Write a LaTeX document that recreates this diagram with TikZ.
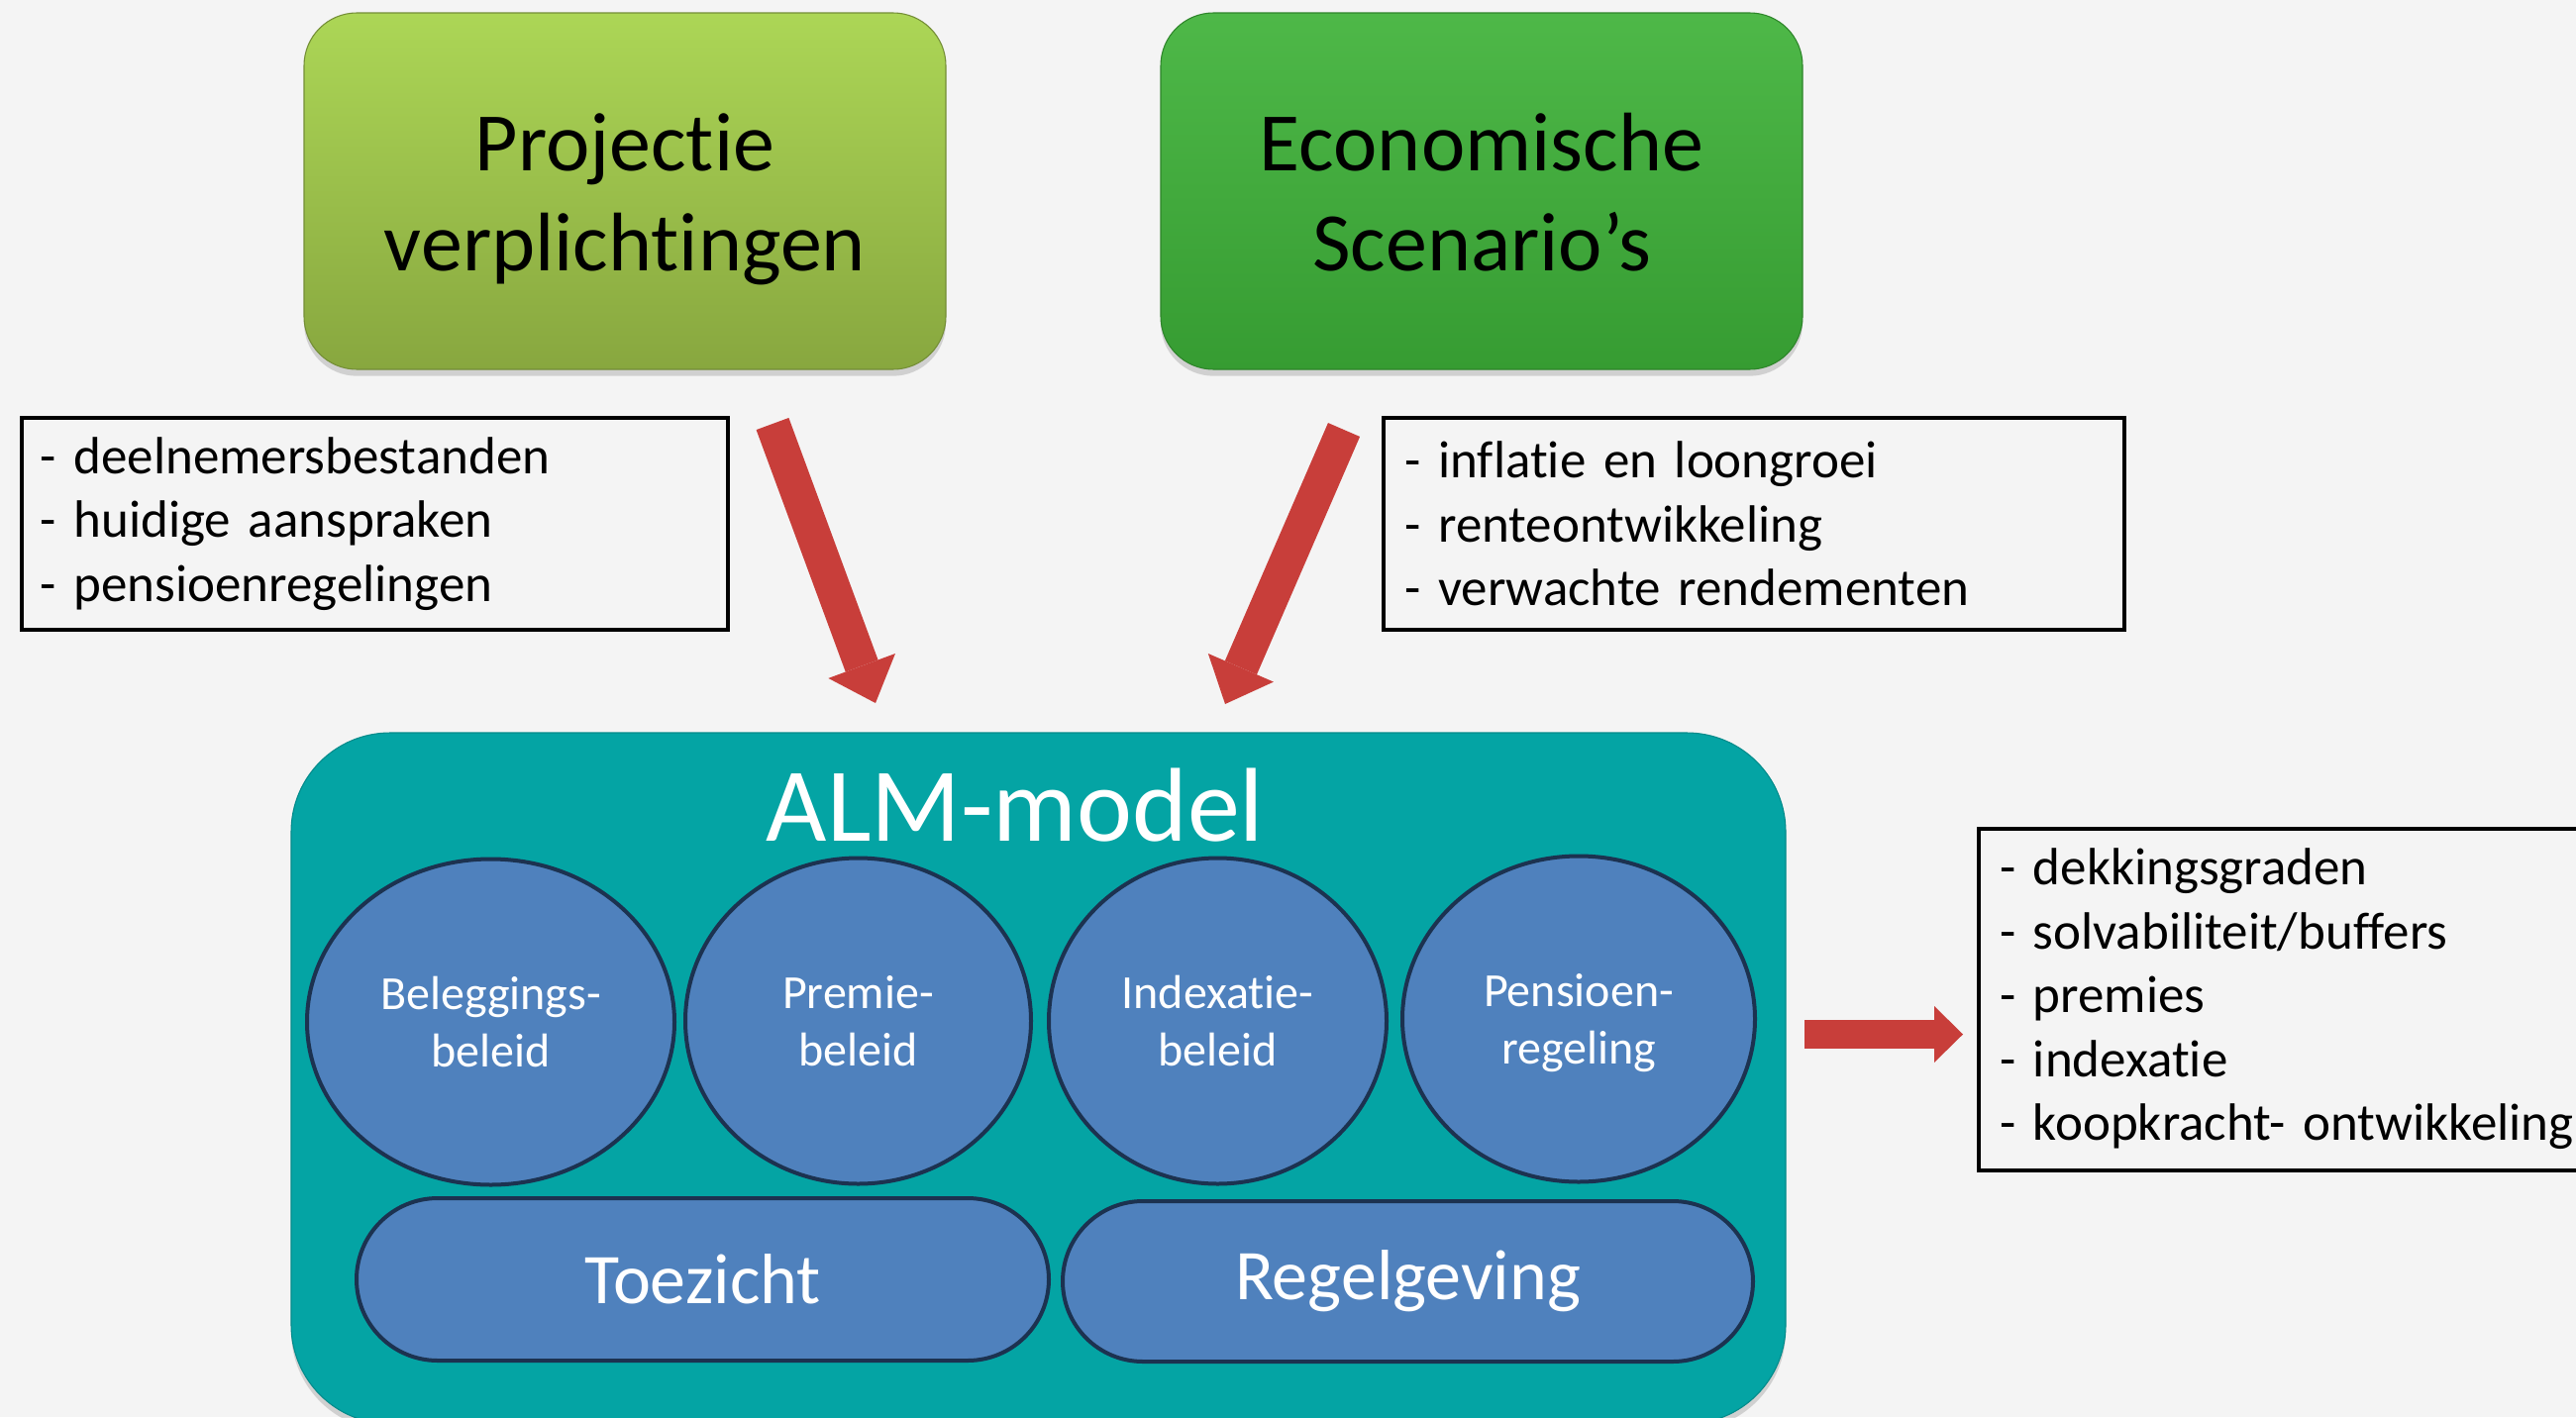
\documentclass[tikz,border=0pt]{standalone}
\usepackage{fontspec}
\setmainfont[Ligatures={NoCommon,NoContextual},RawFeature={-liga;-clig;-calt;-dlig}]{Carlito}
\usetikzlibrary{shapes.geometric,shapes.misc,arrows.meta,shadows}

\definecolor{bgGray}{RGB}{244,244,244}
\definecolor{projTop}{RGB}{172,214,86}
\definecolor{projBottom}{RGB}{136,167,63}
\definecolor{econTop}{RGB}{78,184,72}
\definecolor{econBottom}{RGB}{54,156,50}
\definecolor{almTeal}{RGB}{4,164,164}
\definecolor{partBlue}{RGB}{79,129,189}
\definecolor{partEdge}{RGB}{28,50,80}
\definecolor{arrowRed}{RGB}{200,62,58}

\newcommand{\toprule}{\rule{0pt}{56pt}}

\tikzset{
  sourcebox/.style={rectangle, rounded corners=40pt, draw=#1Bottom!85!black, line width=0.8pt,
    top color=#1Top, bottom color=#1Bottom, minimum width=486pt, minimum height=270pt,
    align=center, font=\fontsize{63}{75.75}\selectfont,
    drop shadow={shadow xshift=0pt, shadow yshift=-5pt, opacity=0.3}},
  listbox/.style={rectangle, draw=black, line width=3pt, align=left, inner ysep=0pt,
    font=\fontsize{39.75}{48.4}\selectfont},
  almbox/.style={rectangle, rounded corners=75pt, fill=almTeal, draw=almTeal!85!black, line width=0.8pt,
    minimum width=1131.75pt, minimum height=523.5pt,
    drop shadow={shadow xshift=0pt, shadow yshift=-5pt, opacity=0.3}},
  almtitle/.style={text=white, inner sep=0pt, font=\fontsize{79.5}{95}\selectfont},
  partcircle/.style={ellipse, fill=partBlue, draw=partEdge, line width=3pt, inner sep=0pt,
    minimum height=246.75pt, align=center, text=white, font=\fontsize{36}{43.5}\selectfont},
  framebar/.style={rounded rectangle, fill=partBlue, draw=partEdge, line width=3pt, inner sep=0pt,
    text=white, font=\fontsize{54}{64}\selectfont},
  fatarrow/.style={draw=arrowRed, line width=26.25pt,
    -{Triangle[width=54pt, length=30pt, line width'=0pt]}},
  thinarrow/.style={draw=arrowRed, line width=21.75pt,
    -{Triangle[width=42.75pt, length=21.75pt, line width'=0pt]}}
}

\begin{document}
\begin{tikzpicture}[x=0.75pt,y=0.75pt,yscale=-1,xscale=1]
\useasboundingbox (0,0) rectangle (2601,1431);
\clip (0,0) rectangle (2601,1431);
%Shape: Background
\fill[bgGray] (0,0) rectangle (2601,1431);

%Shape: Rounded Rect [inputs]
\node[sourcebox=proj] (projectie) at (631,193) {\toprule Projectie\\verplichtingen};
\node[sourcebox=econ] (economie) at (1496,193) {\toprule Economische\\Scenario’s\vphantom{g}};

% Text Node
\node[listbox, minimum width=534.75pt, minimum height=160.5pt, text width=506.75pt, inner xsep=14pt]
  (deelnemers) at (378.5,529) {- deelnemersbestanden\\- huidige aanspraken\\- pensioenregelingen};
% Text Node
\node[listbox, minimum width=561pt, minimum height=160.5pt, text width=529pt, inner xsep=16pt]
  (markt) at (1771,529) {- inflatie en loongroei\\- renteontwikkeling\\- verwachte rendementen};

%Straight Lines [arrows in]
\coordinate (projtail) at (780,428);
\coordinate (projtip) at (884,710);
\coordinate (econtail) at (1357,434);
\coordinate (econtip) at (1237,711);
\draw[fatarrow] (projtail) -- (projtip);
\draw[fatarrow] (econtail) -- (econtip);

%Shape: Rounded Rect [model]
\node[almbox] (alm) at (1048.5,1089) {};
\node[almtitle, anchor=base] (almtitle) at (1025,849) {ALM-model};

%Shape: Ellipse
\node[partcircle, minimum width=278.25pt] (belegging) at (495.5,1032) {Beleggings-\\beleid};
\node[partcircle, minimum width=261.75pt] (premie) at (866.5,1031) {Premie-\\beleid};
\node[partcircle, minimum width=255.75pt] (indexatie) at (1229.5,1031) {Indexatie-\\beleid};
\node[partcircle, minimum width=267pt] (pensioen) at (1594,1029) {Pensioen-\\\raisebox{0pt}[\height][0pt]{regeling}};

%Shape: Rounded Rect [bars]
\node[framebar, minimum width=524.25pt, minimum height=123pt] (toezicht) at (709.5,1292) {Toezicht};
\node[framebar, minimum width=522.75pt, minimum height=121.5pt] (regelgeving) at (1421.5,1294) {Regelgeving};

%Straight Lines [arrow out]
\coordinate (outtail) at (1822,1044.5);
\coordinate (outtip) at (1982,1044.5);
\draw[thinarrow] (outtail) -- (outtip);

% Text Node
\node[listbox, minimum width=487.5pt, minimum height=258.75pt, text width=456pt, inner xsep=15.75pt]
  (uitkomsten) at (2323,1009) {- dekkingsgraden\\- solvabiliteit/buffers\\- premies\\- indexatie\\- koopkracht- ontwikkeling};

\end{tikzpicture}
\end{document}
